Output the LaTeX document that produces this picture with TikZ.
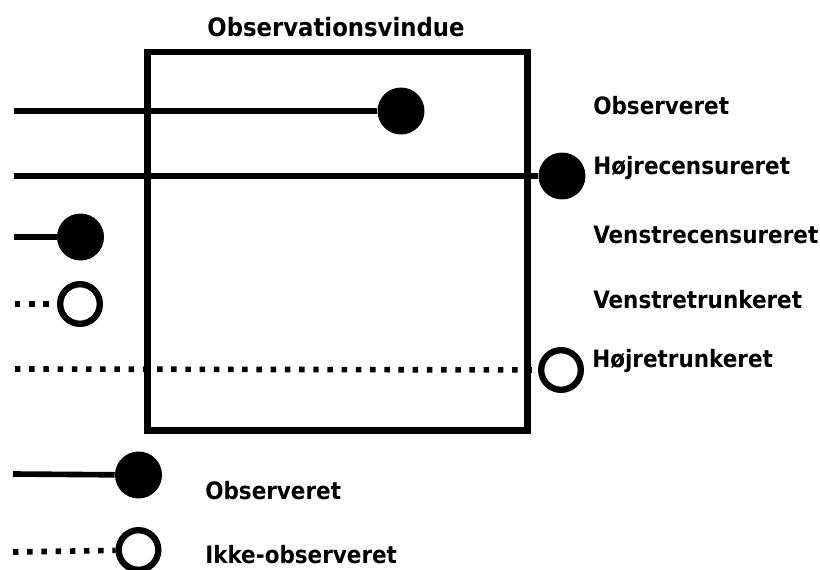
\documentclass[tikz,border=0pt]{standalone}
\usepackage{fontspec}
\setmainfont{DejaVu Sans Condensed}[BoldFont={DejaVu Sans Condensed Bold}]
\usetikzlibrary{positioning}

\begin{document}
\begin{tikzpicture}[x=0.025cm, y=-0.025cm,
		fuld/.style={circle, fill=black, inner sep=0pt, minimum size=33.4pt},
		tom/.style={circle, draw=black, fill=white, line width=4.5pt, inner sep=0pt, minimum size=28.2pt},
		linje/.style={line width=4pt},
		prikker/.style={line width=4pt, dash pattern=on 3.9pt off 6.2pt},
		tekst/.style={anchor=base west, inner sep=0pt, font=\fontsize{17}{21}\selectfont\bfseries}]
	\useasboundingbox (0,0) rectangle (820,570);
	
	% Observationsvindue
	\draw[line width=4.3pt] (147.5,52) rectangle (527.5,430.5);
	\node[tekst, anchor=base, font=\fontsize{18}{22}\selectfont\bfseries] (titel) at (336,37) {Observationsvindue};
	
	% Observeret
	\coordinate (s1) at (14,111);
	\node[fuld] (p1) at (401,111) {};
	\draw[linje] (s1) -- (p1);
	\node[tekst] (t1) at (593,115) {Observeret};
	
	% Hoejrecensureret
	\coordinate (s2) at (14,176);
	\node[fuld] (p2) at (562,176) {};
	\draw[linje] (s2) -- (p2);
	\node[tekst] (t2) at (593,175) {Højrecensureret};
	
	% Venstrecensureret
	\coordinate (s3) at (14,237);
	\node[fuld] (p3) at (80.5,237) {};
	\draw[linje] (s3) -- (p3);
	\node[tekst] (t3) at (593,243) {Venstrecensureret};
	
	% Venstretrunkeret
	\coordinate (s4) at (15,304);
	\node[tom] (p4) at (80,304) {};
	\draw[prikker] (s4) -- (p4);
	\node[tekst] (t4) at (593,308) {Venstretrunkeret};
	
	% Hoejretrunkeret
	\coordinate (s5) at (15,369);
	\node[tom] (p5) at (561,370) {};
	\draw[prikker] (s5) -- (p5);
	\node[tekst] (t5) at (592,367) {Højretrunkeret};
	
	% Signaturforklaring
	\coordinate (s6) at (13,474);
	\node[fuld] (p6) at (138.5,475) {};
	\draw[linje] (s6) -- (p6);
	\node[tekst] (t6) at (205,499) {Observeret};
	
	\coordinate (s7) at (13,552);
	\node[tom] (p7) at (138.5,550) {};
	\draw[prikker] (s7) -- (p7);
	\node[tekst] (t7) at (205,563) {Ikke-observeret};
\end{tikzpicture}
\end{document}
